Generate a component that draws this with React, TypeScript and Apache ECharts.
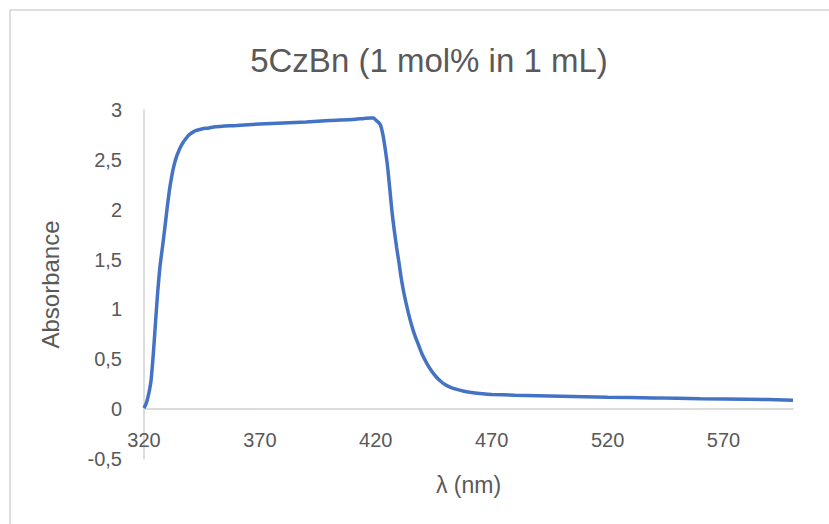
import React, { useEffect, useRef } from "react";
import * as echarts from "echarts";

const wavelengths: number[] = [
  320, 321, 322, 323, 324, 325, 326, 327, 328, 329, 330, 331, 332, 333, 334, 335, 336, 337, 338, 339,
  340, 342, 345, 348, 350, 360, 370, 380, 390, 400, 410, 415, 418, 419, 420, 421, 422, 423, 424, 425,
  426, 427, 428, 429, 430, 431, 432, 433, 434, 435, 436, 437, 438, 439, 440, 442, 444, 446, 448, 450,
  452, 455, 458, 462, 466, 470, 480, 500, 520, 540, 560, 580, 600,
];
const absorbance: number[] = [
  0.01, 0.06, 0.15, 0.28, 0.55, 0.88, 1.2, 1.45, 1.63, 1.82, 2.02, 2.2, 2.34, 2.45, 2.53, 2.59, 2.64, 2.68, 2.71, 2.74,
  2.76, 2.79, 2.81, 2.82, 2.83, 2.845, 2.86, 2.87, 2.88, 2.895, 2.905, 2.915, 2.92, 2.92, 2.9, 2.88, 2.85, 2.76, 2.62, 2.45,
  2.22, 1.98, 1.79, 1.62, 1.47, 1.31, 1.18, 1.07, 0.97, 0.88, 0.8, 0.73, 0.67, 0.61, 0.55, 0.46, 0.385, 0.325, 0.28, 0.245,
  0.222, 0.198, 0.18, 0.165, 0.155, 0.148, 0.14, 0.13, 0.12, 0.113, 0.105, 0.1, 0.09,
];
const X_START = 320;
const X_END = 600;

const TITLE = "5CzBn (1 mol% in 1 mL)";
const X_NAME = "λ (nm)";
const Y_NAME = "Absorbance";

const FONT = "Liberation Sans";
const GRAY = "#595959";

export default function App() {
  const ref = useRef<HTMLDivElement>(null);
  useEffect(() => {
    if (!ref.current) return;
    const chart = echarts.init(ref.current, null, { renderer: "svg" });
    const data = wavelengths.map((w, i) => [w - X_START, absorbance[i]]);
    chart.setOption({
      animation: false,
      backgroundColor: "#ffffff",
      textStyle: { fontFamily: FONT },
      title: {
        text: TITLE,
        left: 424,
        top: 39,
        textAlign: "center",
        textStyle: { fontFamily: FONT, fontSize: 33, fontWeight: "normal", color: GRAY },
      },
      graphic: [
        {
          type: "rect",
          shape: { x: 10, y: 10, width: 840, height: 540 },
          style: { fill: "none", stroke: "#d4d4d4", lineWidth: 1.5 },
          silent: true,
        },
      ],
      grid: { left: 144, right: 36, top: 110, bottom: 65, containLabel: false, outerBoundsMode: "none" },
      xAxis: {
        type: "value",
        min: 0,
        max: X_END - X_START,
        interval: 50,
        name: X_NAME,
        nameLocation: "middle",
        nameGap: 14,
        nameMoveOverlap: false,
        nameTextStyle: { fontFamily: FONT, fontSize: 23, color: GRAY },
        axisLine: { show: true, onZero: true, lineStyle: { color: "#d0d0d0", width: 1.5 } },
        axisTick: { show: false },
        splitLine: { show: false },
        axisLabel: {
          fontFamily: FONT,
          fontSize: 20,
          color: GRAY,
          margin: -29,
          showMaxLabel: false,
          formatter: (v: number) => String(v + X_START),
        },
      },
      yAxis: {
        type: "value",
        min: -0.5,
        max: 3,
        interval: 0.5,
        name: Y_NAME,
        nameLocation: "middle",
        nameGap: 82,
        nameTextStyle: { fontFamily: FONT, fontSize: 24, color: GRAY },
        axisLine: { show: true, onZero: false, lineStyle: { color: "#d0d0d0", width: 1.5 } },
        axisTick: { show: false },
        splitLine: { show: false },
        axisLabel: {
          fontFamily: FONT,
          fontSize: 20,
          color: GRAY,
          margin: 22,
          formatter: (v: number) => String(v).replace(".", ","),
        },
      },
      series: [
        {
          type: "line",
          data,
          showSymbol: false,
          smooth: 0.25,
          lineStyle: { color: "#4472C4", width: 3.5 },
        },
      ],
    });
    return () => chart.dispose();
  }, []);
  return (
    <div
      ref={ref}
      style={{ position: "absolute", left: 0, top: 0, width: 829, height: 524 }}
    />
  );
}
